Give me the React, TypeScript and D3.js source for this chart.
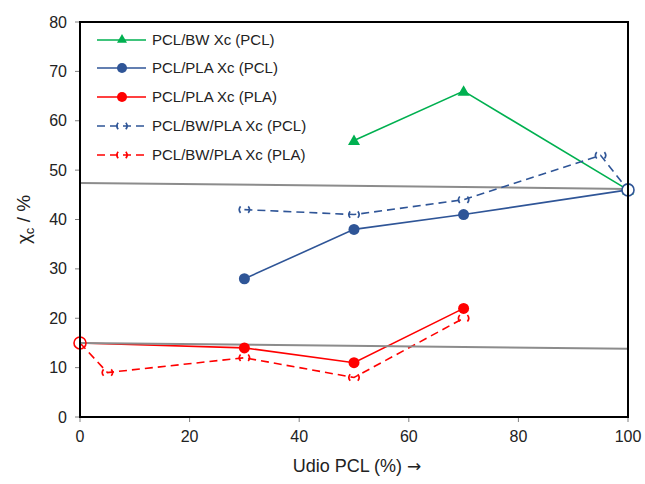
import React from "react";
import * as d3 from "d3";

const xTicks = [0, 20, 40, 60, 80, 100];
const yTicks = [0, 10, 20, 30, 40, 50, 60, 70, 80];

const bwPclX = [50, 70, 100];
const bwPclY = [56, 66, 46];
const plaPclX = [30, 50, 70, 100];
const plaPclY = [28, 38, 41, 46];
const plaPlaX = [0, 30, 50, 70];
const plaPlaY = [15, 14, 11, 22];
const bwPlaPclX = [30, 50, 70, 95, 100];
const bwPlaPclY = [42, 41, 44, 53, 46];
const bwPlaPlaX = [0, 5, 30, 50, 70];
const bwPlaPlaY = [15, 9, 12, 8, 20];
const trendUpperX = [0, 100];
const trendUpperY = [47.4, 46.2];
const trendLowerX = [0, 100];
const trendLowerY = [15.0, 13.8];

const legendLabels = [
  "PCL/BW Xc (PCL)",
  "PCL/PLA Xc (PCL)",
  "PCL/PLA Xc (PLA)",
  "PCL/BW/PLA Xc (PCL)",
  "PCL/BW/PLA Xc (PLA)",
];

const GREEN = "#00B050";
const BLUE = "#2F5597";
const RED = "#FF0000";
const GRAY = "#8C8C8C";

const W = 645, H = 484;
const L = 80, R = 628, T = 22, B = 417;

export default function App() {
  const x = d3.scaleLinear().domain([0, 100]).range([L, R]);
  const y = d3.scaleLinear().domain([0, 80]).range([B, T]);
  const line = d3.line<[number, number]>().x(d => x(d[0])).y(d => y(d[1]));
  const pts = (xs: number[], ys: number[]) => xs.map((v, i) => [v, ys[i]] as [number, number]);
  const font = "'Liberation Sans', Arial, sans-serif";

  const parenMarker = (cx: number, cy: number, color: string, key: string) => {
    const r = 5;
    const p = (deg: number) => {
      const a = (deg * Math.PI) / 180;
      return `${cx + r * Math.cos(a)},${cy - r * Math.sin(a)}`;
    };
    const d = `M${p(140)}A${r},${r} 0 0 0 ${p(220)}M${p(40)}A${r},${r} 0 0 1 ${p(-40)}`;
    return <path key={key} d={d} fill="none" stroke={color} strokeWidth={1.7} />;
  };
  const tri = (cx: number, cy: number, s = 6) => `M${cx},${cy - s}L${cx + s},${cy + s * 0.75}L${cx - s},${cy + s * 0.75}Z`;

  const legendY = [40, 68, 97, 126, 155];
  const lx1 = 97, lx2 = 146, lmid = 122;

  return (
    <svg width={W} height={H} style={{ display: "block", position: "absolute", left: 0, top: 0 }}>
      <rect x={0} y={0} width={W} height={H} fill="#fff" />
      {yTicks.map(t => (
        <g key={"y" + t}>
          <line x1={L - 5} x2={L} y1={y(t)} y2={y(t)} stroke="#808080" strokeWidth={1} />
          <text x={L - 13} y={y(t)} dy="0.35em" textAnchor="end" fontFamily={font} fontSize={16} fill="#222">{t}</text>
        </g>
      ))}
      {xTicks.map(t => (
        <g key={"x" + t}>
          <line x1={x(t)} x2={x(t)} y1={B} y2={B + 5} stroke="#808080" strokeWidth={1} />
          <text x={x(t)} y={B + 25} textAnchor="middle" fontFamily={font} fontSize={16} fill="#222">{t}</text>
        </g>
      ))}
      <path d={line(pts(trendUpperX, trendUpperY)) || ""} fill="none" stroke={GRAY} strokeWidth={2} />
      <path d={line(pts(bwPclX, bwPclY)) || ""} fill="none" stroke={GREEN} strokeWidth={1.6} />
      <path d={line(pts(plaPclX, plaPclY)) || ""} fill="none" stroke={BLUE} strokeWidth={1.6} />
      <path d={line(pts(plaPlaX, plaPlaY)) || ""} fill="none" stroke={RED} strokeWidth={1.6} />
      <path d={line(pts(bwPlaPclX, bwPlaPclY)) || ""} fill="none" stroke={BLUE} strokeWidth={1.6} strokeDasharray="8 5" />
      <path d={line(pts(bwPlaPlaX, bwPlaPlaY)) || ""} fill="none" stroke={RED} strokeWidth={1.6} strokeDasharray="8 5" />
      <path d={line(pts(trendLowerX, trendLowerY)) || ""} fill="none" stroke={GRAY} strokeWidth={2} />
      {bwPclX.map((v, i) => <path key={"g" + i} d={tri(x(v), y(bwPclY[i]))} fill={GREEN} />)}
      {plaPclX.map((v, i) => v === 100
        ? null
        : <circle key={"b" + i} cx={x(v)} cy={y(plaPclY[i])} r={5.5} fill={BLUE} />)}
      {plaPlaX.map((v, i) => v === 0
        ? null
        : <circle key={"r" + i} cx={x(v)} cy={y(plaPlaY[i])} r={5.5} fill={RED} />)}
      {bwPlaPclX.map((v, i) => v === 100 ? null : parenMarker(x(v), y(bwPlaPclY[i]), BLUE, "pb" + i))}
      {bwPlaPlaX.map((v, i) => v === 0 ? null : parenMarker(x(v), y(bwPlaPlaY[i]), RED, "pr" + i))}
      <circle cx={x(100)} cy={y(46)} r={6} fill="#fff" stroke={BLUE} strokeWidth={1.6} />
      <circle cx={x(0)} cy={y(15)} r={6} fill="none" stroke={RED} strokeWidth={1.6} />
      <rect x={L} y={T} width={R - L} height={B - T} fill="none" stroke="#000" strokeWidth={2} />
      {legendLabels.map((lab, i) => {
        const ly = legendY[i];
        const color = i === 0 ? GREEN : (i === 1 || i === 3) ? BLUE : RED;
        return (
          <g key={"l" + i}>
            <line x1={lx1} x2={lx2} y1={ly} y2={ly} stroke={color} strokeWidth={1.6} strokeDasharray={i >= 3 ? "8 5" : undefined} />
            {i === 0 && <path d={tri(lmid, ly - 1, 5)} fill={GREEN} />}
            {(i === 1 || i === 2) && <circle cx={lmid} cy={ly} r={5} fill={color} />}
            {i >= 3 && parenMarker(lmid, ly, color, "lm" + i)}
            <text x={152} y={ly} dy="0.35em" fontFamily={font} fontSize={15} fill="#222">{lab}</text>
          </g>
        );
      })}
      <text x={357} y={472} textAnchor="middle" fontFamily={font} fontSize={18} fill="#222">
        Udio PCL (%) <tspan fontFamily="'DejaVu Sans', sans-serif" fontSize={17}>→</tspan>
      </text>
      <text transform={`translate(30,${(T + B) / 2}) rotate(-90)`} textAnchor="middle" fontFamily={font} fontSize={19} fill="#222">
        χ<tspan fontSize={13} dy={4}>c</tspan><tspan dy={-4}> / %</tspan>
      </text>
    </svg>
  );
}
